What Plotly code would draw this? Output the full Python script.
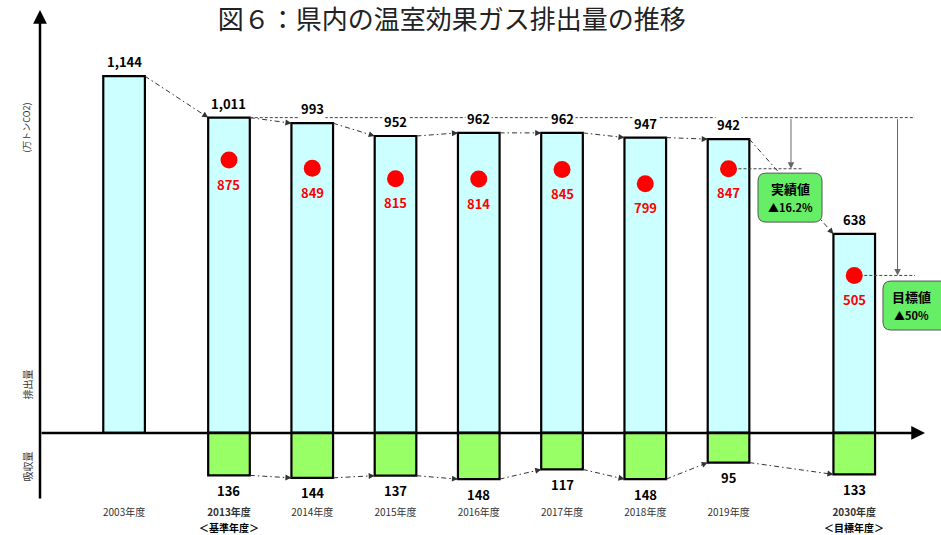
import math
import plotly.graph_objects as go

# ---------------- data ----------------
categories = ["2003年度", "2013年度", "2014年度", "2015年度", "2016年度",
              "2017年度", "2018年度", "2019年度", "2030年度"]
tick_labels = ["2003年度", "<b>2013年度</b>", "2014年度", "2015年度",
               "2016年度", "2017年度", "2018年度", "2019年度", "<b>2030年度</b>"]
tick_sublabels = {"2013年度": "＜基準年度＞", "2030年度": "＜目標年度＞"}
emissions = [1144, 1011, 993, 952, 962, 962, 947, 942, 638]
absorption_cats = categories[1:]
absorption = [136, 144, 137, 148, 117, 148, 95, 133]
net_cats = categories[1:]
net_emissions = [875, 849, 815, 814, 845, 799, 847, 505]
base_year_value = 1011
actual_box = ["実績値", "▲16.2%"]
target_box = ["目標値", "▲50%"]
title_text = "図６：県内の温室効果ガス排出量の推移"

# ---------------- layout helpers ----------------
xpos = dict(zip(categories, [-0.26, 1, 2, 3, 4, 5, 6, 7, 8.51]))
BW = 0.5
XMIN, XMAX = -1.27, 9.552
YMIN, YMAX = -231, 1356
PXX = 901 / (XMAX - XMIN)
PXY = 495 / (YMAX - YMIN)
FONT = "Noto Sans CJK JP, Liberation Sans, sans-serif"

fig = go.Figure()

fig.add_trace(go.Bar(x=[xpos[c] for c in categories], y=emissions, width=BW,
                     marker=dict(color="#CCFFFF", line=dict(color="black", width=2.2)),
                     hoverinfo="skip"))
fig.add_trace(go.Bar(x=[xpos[c] for c in absorption_cats], y=[-a for a in absorption], width=BW,
                     marker=dict(color="#99FF66", line=dict(color="black", width=2.2)),
                     hoverinfo="skip"))

ann = []


def connector(x0, y0, x1, y1, color="#333"):
    fig.add_trace(go.Scatter(
        x=[x0, x1], y=[y0, y1], mode="lines",
        line=dict(color=color, width=1, dash="5px,3px,1.5px,3px"),
        hoverinfo="skip", showlegend=False, cliponaxis=False))
    # arrowhead: direction in screen pixels
    dx = (x1 - x0) * PXX
    dy = -(y1 - y0) * PXY
    L = math.hypot(dx, dy)
    ann.append(dict(x=x1, y=y1, ax=-dx / L * 7, ay=-dy / L * 7, showarrow=True,
                    arrowhead=2, arrowsize=1.2, arrowwidth=1, arrowcolor=color, text=""))


# emission connectors
for i in range(len(categories) - 1):
    c0, c1 = categories[i], categories[i + 1]
    connector(xpos[c0] + BW / 2, emissions[i], xpos[c1] - BW / 2, emissions[i + 1])
# absorption connectors
for i in range(len(absorption_cats) - 1):
    c0, c1 = absorption_cats[i], absorption_cats[i + 1]
    connector(xpos[c0] + BW / 2, -absorption[i], xpos[c1] - BW / 2, -absorption[i + 1])

# reference dotted lines
ref_end = 9.24
dotted = dict(color="#444", width=1, dash="3px,2px")
fig.add_trace(go.Scatter(x=[xpos["2013年度"] + BW / 2, ref_end], y=[base_year_value] * 2,
                         mode="lines", line=dotted, hoverinfo="skip", showlegend=False))
fig.add_trace(go.Scatter(x=[xpos["2019年度"], 7.89], y=[net_emissions[-2]] * 2,
                         mode="lines", line=dotted, hoverinfo="skip", showlegend=False))
fig.add_trace(go.Scatter(x=[xpos["2030年度"], ref_end], y=[net_emissions[-1]] * 2,
                         mode="lines", line=dotted, hoverinfo="skip", showlegend=False))

# red dots
fig.add_trace(go.Scatter(x=[xpos[c] for c in net_cats], y=net_emissions, mode="markers",
                         marker=dict(color="red", size=17, line=dict(width=0)),
                         hoverinfo="skip", showlegend=False))

for c, v in zip(categories, emissions):
    ann.append(dict(x=xpos[c], y=v, text=f"<b>{v:,}</b>", showarrow=False, yanchor="bottom",
                    yshift=3, bgcolor="white", font=dict(size=13, color="black")))
for c, v in zip(net_cats, net_emissions):
    ann.append(dict(x=xpos[c], y=v, text=f"<b>{v}</b>", showarrow=False, yanchor="middle",
                    yshift=-24, font=dict(size=13, color="#FF0000")))
for c, v in zip(absorption_cats, absorption):
    ann.append(dict(x=xpos[c], y=-v, text=f"<b>{v}</b>", showarrow=False, yanchor="middle",
                    yshift=-15, font=dict(size=13, color="black")))

# second line of the special category labels
for c, sub in tick_sublabels.items():
    ann.append(dict(x=xpos[c], yref="paper", y=-(527 - 505) / 495, text=f"<b>{sub}</b>",
                    showarrow=False, yanchor="middle", font=dict(size=10, color="black")))

# axes arrows
ann.append(dict(x=XMIN, y=YMAX, ax=XMIN, ay=-215, xref="x", yref="y", axref="x", ayref="y",
                showarrow=True, arrowhead=2, arrowsize=1.1, arrowwidth=2.5, arrowcolor="black",
                text=""))
ann.append(dict(x=9.36, y=0, ax=XMIN, ay=0, xref="x", yref="y", axref="x", ayref="y",
                showarrow=True, arrowhead=2, arrowsize=1.1, arrowwidth=2.5, arrowcolor="black",
                text=""))
# vertical gray arrows
for xv, yv in [(7.75, net_emissions[-2]), (9.03, net_emissions[-1])]:
    ann.append(dict(x=xv, y=yv, ax=xv, ay=base_year_value, xref="x", yref="y", axref="x",
                    ayref="y", showarrow=True, arrowhead=2, arrowsize=1.3, arrowwidth=1,
                    arrowcolor="#666", text=""))

# side labels
for txt, yv, sz in [("(万トンCO2)", 977, 9), ("排出量", 154, 10), ("吸収量", -109, 10)]:
    ann.append(dict(xref="paper", x=-0.0244, y=yv, text=txt, textangle=-90, showarrow=False,
                    font=dict(size=sz, color="#333")))


# green boxes
def rounded(x0, x1, y0, y1, r=8):
    rx, ry = r / PXX, r / PXY
    return (f"M{x0+rx},{y1} L{x1-rx},{y1} Q{x1},{y1} {x1},{y1-ry} "
            f"L{x1},{y0+ry} Q{x1},{y0} {x1-rx},{y0} L{x0+rx},{y0} "
            f"Q{x0},{y0} {x0},{y0+ry} L{x0},{y1-ry} Q{x0},{y1} {x0+rx},{y1} Z")


shapes = [
    dict(type="path", path=rounded(7.354, 8.123, 676, 833), fillcolor="#66EE66",
         line=dict(color="#555", width=1), layer="above"),
    dict(type="path", path=rounded(8.855, 9.65, 330, 487), fillcolor="#66EE66",
         line=dict(color="#555", width=1), layer="above"),
]
for (xc, y1, y2), lines in [((7.74, 785, 724), actual_box), ((9.20, 436, 378), target_box)]:
    ann.append(dict(x=xc, y=y1, text=f"<b>{lines[0]}</b>", showarrow=False,
                    font=dict(size=13, color="black")))
    ann.append(dict(x=xc, y=y2, text=f"<b>{lines[1]}</b>", showarrow=False,
                    font=dict(size=11, color="black")))

fig.update_layout(
    width=941, height=535,
    margin=dict(l=40, r=0, t=10, b=30),
    paper_bgcolor="white", plot_bgcolor="white",
    showlegend=False, barmode="overlay",
    font=dict(family=FONT, color="black"),
    title=dict(text=title_text, x=0.48, xref="container", xanchor="center",
               y=1 - 19.5 / 535, yref="container", yanchor="middle",
               font=dict(size=26, color="#222")),
    xaxis=dict(range=[XMIN, XMAX], showgrid=False, zeroline=False, showline=False,
               tickvals=[xpos[c] for c in categories], ticktext=tick_labels,
               tickfont=dict(size=10, color="#333"), ticks=""),
    yaxis=dict(range=[YMIN, YMAX], visible=False, showgrid=False, zeroline=False),
    annotations=ann, shapes=shapes,
)

fig.write_html("out.html", config={"displayModeBar": False},
               post_script="document.body.style.margin='0';")
